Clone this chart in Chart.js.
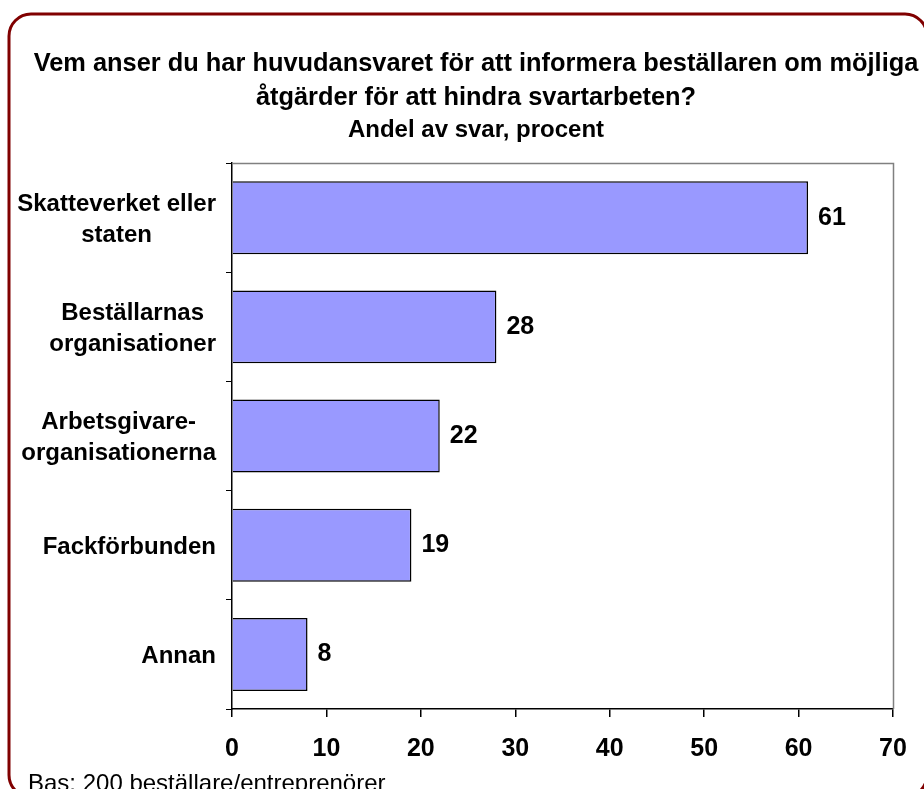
<!DOCTYPE html>
<html>
<head>
<meta charset="utf-8">
<script src="https://cdn.jsdelivr.net/npm/chart.js@4.4.1/dist/chart.umd.min.js"></script>
<style>
    body { margin: 0; background: #fff; }
    #wrap { width: 924px; height: 789px; }
</style>
</head>
<body>
<div id="wrap"><canvas id="svarChart" width="924" height="789"></canvas></div>
<script>
const categories = [
    ['Skatteverket eller', 'staten'],
    ['Beställarnas', 'organisationer'],
    ['Arbetsgivare-', 'organisationerna'],
    ['Fackförbunden'],
    ['Annan']
];
const shares = [61, 28, 22, 19, 8];
const axisMin = 0;
const axisMax = 70;
const axisStep = 10;

const titleLines = [
    'Vem anser du har huvudansvaret för att informera beställaren om möjliga',
    'åtgärder för att hindra svartarbeten?'
];
const subtitleText = 'Andel av svar, procent';
const footnote = 'Bas: 200 beställare/entreprenörer';

const fontFamily = "'Liberation Sans', Arial, sans-serif";

const decorPlugin = {
    id: 'decor',
    beforeDraw(chart) {
        const ctx = chart.ctx;
        ctx.save();
        ctx.fillStyle = '#fff';
        ctx.fillRect(0, 0, chart.width, chart.height);
        ctx.restore();
    },
    afterDatasetsDraw(chart) {
        const ctx = chart.ctx;
        const area = chart.chartArea;
        ctx.save();

        // grey frame on top and right of plot area
        ctx.strokeStyle = '#808080';
        ctx.lineWidth = 1.5;
        ctx.beginPath();
        ctx.moveTo(area.left, area.top + 0.5);
        ctx.lineTo(area.right + 0.5, area.top + 0.5);
        ctx.lineTo(area.right + 0.5, area.bottom);
        ctx.stroke();

        // value labels next to bars
        ctx.fillStyle = '#000';
        ctx.font = 'bold 25px ' + fontFamily;
        ctx.textAlign = 'left';
        ctx.textBaseline = 'middle';
        chart.getDatasetMeta(0).data.forEach((bar, i) => {
            ctx.fillText(String(shares[i]), bar.x + 10, bar.y);
        });

        // category labels, lines centred in a right-aligned block
        ctx.font = 'bold 24px ' + fontFamily;
        const yScale = chart.scales.y;
        const rightEdge = area.left - 16;
        categories.forEach((lines, i) => {
            const widest = Math.max(...lines.map(l => ctx.measureText(l).width));
            const cx = rightEdge - widest / 2;
            const cy = yScale.getPixelForValue(i) + 2;
            ctx.textAlign = 'center';
            lines.forEach((line, j) => {
                const y = cy + (j - (lines.length - 1) / 2) * 31;
                ctx.fillText(line, cx, y);
            });
        });
        ctx.restore();
    },
    afterDraw(chart) {
        const ctx = chart.ctx;
        ctx.save();
        ctx.fillStyle = '#000';
        ctx.font = '24px ' + fontFamily;
        ctx.textAlign = 'left';
        ctx.textBaseline = 'alphabetic';
        ctx.fillText(footnote, 28, 791);

        ctx.strokeStyle = '#800000';
        ctx.lineWidth = 3;
        ctx.beginPath();
        ctx.roundRect(9, 14, 918, 783, 22);
        ctx.stroke();
        ctx.restore();
    }
};

const ctx = document.getElementById('svarChart').getContext('2d');
const svarChart = new Chart(ctx, {
    type: 'bar',
    data: {
        labels: categories,
        datasets: [{
            data: shares,
            backgroundColor: '#9999FF',
            borderColor: '#000',
            borderWidth: 1.5,
            barPercentage: 0.668,
            categoryPercentage: 1
        }]
    },
    options: {
        indexAxis: 'y',
        responsive: false,
        animation: false,
        layout: {
            padding: { left: 32, right: 4, top: 0, bottom: 0 }
        },
        scales: {
            x: {
                min: axisMin,
                max: axisMax,
                afterFit(scale) {
                    scale.height = 80;
                    scale.paddingRight = 31;
                },
                border: { display: true, color: '#000', width: 1.5 },
                grid: {
                    drawOnChartArea: false,
                    drawTicks: true,
                    tickLength: 8,
                    color: '#000',
                    lineWidth: 1.5
                },
                ticks: {
                    stepSize: axisStep,
                    padding: 17,
                    color: '#000',
                    font: { family: fontFamily, size: 25, weight: 'bold' }
                }
            },
            y: {
                afterFit(scale) { scale.width = 200; },
                border: { display: true, color: '#000', width: 1.5 },
                grid: {
                    offset: true,
                    drawOnChartArea: false,
                    drawTicks: true,
                    tickLength: 6,
                    color: '#000',
                    lineWidth: 1
                },
                ticks: { display: false }
            }
        },
        plugins: {
            legend: { display: false },
            tooltip: { enabled: false },
            title: {
                display: true,
                text: titleLines,
                color: '#000',
                font: { family: fontFamily, size: 25.4, weight: 'bold', lineHeight: 1.34 },
                padding: { top: 47, bottom: 1 }
            },
            subtitle: {
                display: true,
                text: subtitleText,
                color: '#000',
                font: { family: fontFamily, size: 24, weight: 'bold', lineHeight: 1.2 },
                padding: { top: 0, bottom: 18.2 }
            }
        }
    },
    plugins: [decorPlugin]
});
</script>
</body>
</html>
